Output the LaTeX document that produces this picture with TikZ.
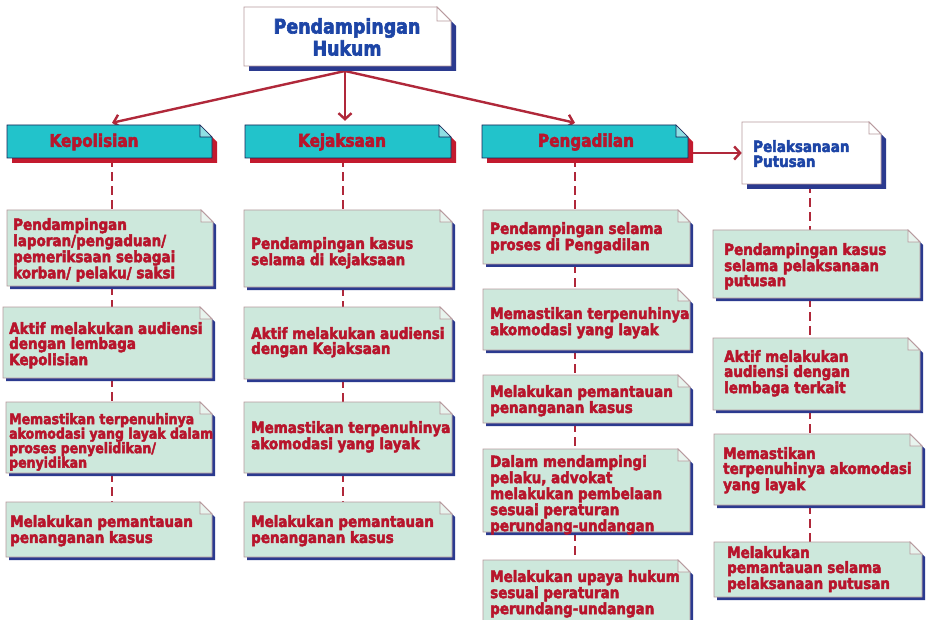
\documentclass[tikz,border=0pt]{standalone}
\usepackage{fontspec}
\newfontfamily\heavy{DejaVu Sans}[FakeStretch=0.87, BoldFeatures={FakeBold=3}]
\usetikzlibrary{arrows.meta,calc}

\definecolor{txtred}{HTML}{B8152C}
\definecolor{txtblue}{HTML}{1D45A6}
\definecolor{shblue}{HTML}{2B3A8F}
\definecolor{shred}{HTML}{C31A2E}
\definecolor{headcyan}{HTML}{22C3CB}
\definecolor{foldcyan}{HTML}{8FE0E4}
\definecolor{boxgreen}{HTML}{CDE8DC}
\definecolor{foldgreen}{HTML}{E8F4EE}
\definecolor{boxedge}{HTML}{B89A9E}
\definecolor{linered}{HTML}{B0283A}

\pgfdeclarelayer{bg}
\pgfsetlayers{bg,main}

\tikzset{
  green shadow/.style={fill=shblue},
  green body/.style={fill=boxgreen, draw=boxedge, line width=0.8pt},
  green fold/.style={fill=foldgreen, draw=boxedge, line width=0.8pt},
  head shadow/.style={fill=shred},
  head body/.style={fill=headcyan, draw=shblue!60!black, line width=0.6pt},
  head fold/.style={fill=foldcyan, draw=shblue!60!black, line width=0.6pt},
  white shadow/.style={fill=shblue},
  white body/.style={fill=white, draw=boxedge, line width=0.8pt},
  white fold/.style={fill=white, draw=boxedge, line width=0.8pt},
  bodytext/.style={font=\heavy\bfseries\fontsize{15.5}{15}\selectfont, text=txtred,
    align=left, inner sep=0pt, anchor=north west},
  smalltext/.style={bodytext, font=\heavy\bfseries\fontsize{14.4}{14.5}\selectfont},
  headtext/.style={font=\heavy\bfseries\fontsize{17.5}{17}\selectfont, text=txtred, inner sep=0pt},
  bluetext/.style={font=\heavy\bfseries\fontsize{15.5}{15}\selectfont, text=txtblue,
    align=left, inner sep=0pt, anchor=north west},
  titletext/.style={font=\heavy\bfseries\fontsize{20}{22}\selectfont, text=txtblue,
    align=center, inner sep=0pt},
  mainline/.style={draw=linered, line width=2.4pt,
    -{Straight Barb[length=6pt, width=13pt, line width=2.4pt]}},
  dashline/.style={draw=linered, line width=2.2pt, dash pattern=on 9pt off 5pt},
}

% folded-corner note: name, x1, y1, x2, y2, fold size, shadow offset, kind
\newcommand{\foldnote}[8]{%
  \fill[#8 shadow] ({#2+#7},{#3+#7}) -- ({#4-#6+#7},{#3+#7}) -- ({#4+#7},{#3+#6+#7})
    -- ({#4+#7},{#5+#7}) -- ({#2+#7},{#5+#7}) -- cycle;
  \path[#8 body] (#2,#3) -- ({#4-#6},#3) -- (#4,{#3+#6}) -- (#4,#5) -- (#2,#5) -- cycle;
  \path[#8 fold] ({#4-#6},#3) -- ({#4-#6},{#3+#6}) -- (#4,{#3+#6}) -- cycle;
  \node[inner sep=0pt, minimum width={#4-#2}, minimum height={#5-#3}] (#1)
    at ({(#2+#4)/2},{(#3+#5)/2}) {};
}

\begin{document}
\begin{tikzpicture}[x=1pt, y=-1pt]
\useasboundingbox (0,0) rectangle (931,620);
\clip (0,0) rectangle (931,620);
\begin{pgfonlayer}{bg}
  \fill[white] (0,0) rectangle (931,620);
\end{pgfonlayer}

% column axes
\coordinate (c1) at (112,0);
\coordinate (c2) at (343,0);
\coordinate (c3) at (575,0);
\coordinate (c4) at (810,0);
\coordinate (hub) at (345,71);

% title
\foldnote{title}{244}{7}{451}{66}{14}{5}{white}
\node[titletext] (titlet) at (347,37) {Pendampingan\\Hukum};

% institution headers
\foldnote{h1}{7}{125}{212}{158}{12}{5}{head}
\node[headtext] (h1t) at (94,142) {Kepolisian};
\foldnote{h2}{245}{125}{451}{158}{12}{5}{head}
\node[headtext] (h2t) at (342,142) {Kejaksaan};
\foldnote{h3}{482}{125}{688}{158}{12}{5}{head}
\node[headtext] (h3t) at (586,142) {Pengadilan};
\foldnote{h4}{742}{122}{881}{184}{12}{5}{white}
\node[bluetext] (h4t) at (753,140) {Pelaksanaan\\Putusan};

% Kepolisian column
\foldnote{b11}{7}{210}{213}{286}{12}{3}{green}
\node[bodytext] (b11t) at (13,218) {Pendampingan\\laporan/pengaduan/\\pemeriksaan sebagai\\korban/ pelaku/ saksi};
\foldnote{b12}{3}{307}{212}{378}{12}{3}{green}
\node[bodytext] (b12t) at (9,322) {Aktif melakukan audiensi\\dengan lembaga\\Kepolisian};
\foldnote{b13}{6}{402}{212}{473}{12}{3}{green}
\node[smalltext] (b13t) at (9,413) {Memastikan terpenuhinya\\akomodasi yang layak dalam\\proses penyelidikan/\\penyidikan};
\foldnote{b14}{6}{502}{212}{557}{12}{3}{green}
\node[bodytext] (b14t) at (10,515) {Melakukan pemantauan\\penanganan kasus};

% Kejaksaan column
\foldnote{b21}{244}{210}{452}{287}{12}{3}{green}
\node[bodytext] (b21t) at (251,237) {Pendampingan kasus\\selama di kejaksaan};
\foldnote{b22}{244}{307}{452}{379}{12}{3}{green}
\node[bodytext] (b22t) at (251,327) {Aktif melakukan audiensi\\dengan Kejaksaan};
\foldnote{b23}{244}{402}{452}{473}{12}{3}{green}
\node[bodytext] (b23t) at (251,421) {Memastikan terpenuhinya\\akomodasi yang layak};
\foldnote{b24}{244}{502}{452}{557}{12}{3}{green}
\node[bodytext] (b24t) at (251,515) {Melakukan pemantauan\\penanganan kasus};

% Pengadilan column
\foldnote{b31}{483}{210}{690}{264}{12}{3}{green}
\node[bodytext] (b31t) at (490,222) {Pendampingan selama\\proses di Pengadilan};
\foldnote{b32}{483}{289}{690}{350}{12}{3}{green}
\node[bodytext] (b32t) at (490,307) {Memastikan terpenuhinya\\akomodasi yang layak};
\foldnote{b33}{483}{375}{690}{423}{12}{3}{green}
\node[bodytext] (b33t) at (490,385) {Melakukan pemantauan\\penanganan kasus};
\foldnote{b34}{483}{449}{690}{532}{12}{3}{green}
\node[bodytext] (b34t) at (490,455) {Dalam mendampingi\\pelaku, advokat\\melakukan pembelaan\\sesuai peraturan\\perundang-undangan};
\foldnote{b35}{483}{560}{690}{628}{12}{3}{green}
\node[bodytext] (b35t) at (490,570) {Melakukan upaya hukum\\sesuai peraturan\\perundang-undangan};

% Pelaksanaan Putusan column
\foldnote{b41}{713}{230}{920}{298}{12}{3}{green}
\node[bodytext] (b41t) at (724,243) {Pendampingan kasus\\selama pelaksanaan\\putusan};
\foldnote{b42}{713}{338}{920}{410}{12}{3}{green}
\node[bodytext] (b42t) at (724,350) {Aktif melakukan\\audiensi dengan\\lembaga terkait};
\foldnote{b43}{714}{434}{922}{505}{12}{3}{green}
\node[bodytext] (b43t) at (723,447) {Memastikan\\terpenuhinya akomodasi\\yang layak};
\foldnote{b44}{714}{542}{922}{597}{12}{3}{green}
\node[bodytext] (b44t) at (727,546) {Melakukan\\pemantauan selama\\pelaksanaan putusan};

\begin{pgfonlayer}{bg}
  % branches from the title
  \draw[mainline] (hub) -- ($(h1.north -| c1)+(0,-2)$);
  \draw[mainline] (hub) -- ($(h2.north -| hub)+(0,-4)$);
  \draw[mainline] (hub) -- ($(h3.north -| c3)+(0,-2)$);
  \draw[mainline] (h3.east |- h4.west) -- (h4.west);
  % dashed chains down each column
  \draw[dashline] (h1.south -| c1) -- (b11.north -| c1) (b11.south -| c1) -- (b12.north -| c1)
    (b12.south -| c1) -- (b13.north -| c1) (b13.south -| c1) -- (b14.north -| c1);
  \draw[dashline] (h2.south -| c2) -- (b21.north -| c2) (b21.south -| c2) -- (b22.north -| c2)
    (b22.south -| c2) -- (b23.north -| c2) (b23.south -| c2) -- (b24.north -| c2);
  \draw[dashline] (h3.south -| c3) -- (b31.north -| c3) (b31.south -| c3) -- (b32.north -| c3)
    (b32.south -| c3) -- (b33.north -| c3) (b33.south -| c3) -- (b34.north -| c3)
    (b34.south -| c3) -- (b35.north -| c3);
  \draw[dashline] (h4.south -| c4) -- (b41.north -| c4) (b41.south -| c4) -- (b42.north -| c4)
    (b42.south -| c4) -- (b43.north -| c4) (b43.south -| c4) -- (b44.north -| c4);
\end{pgfonlayer}
\end{tikzpicture}
\end{document}
